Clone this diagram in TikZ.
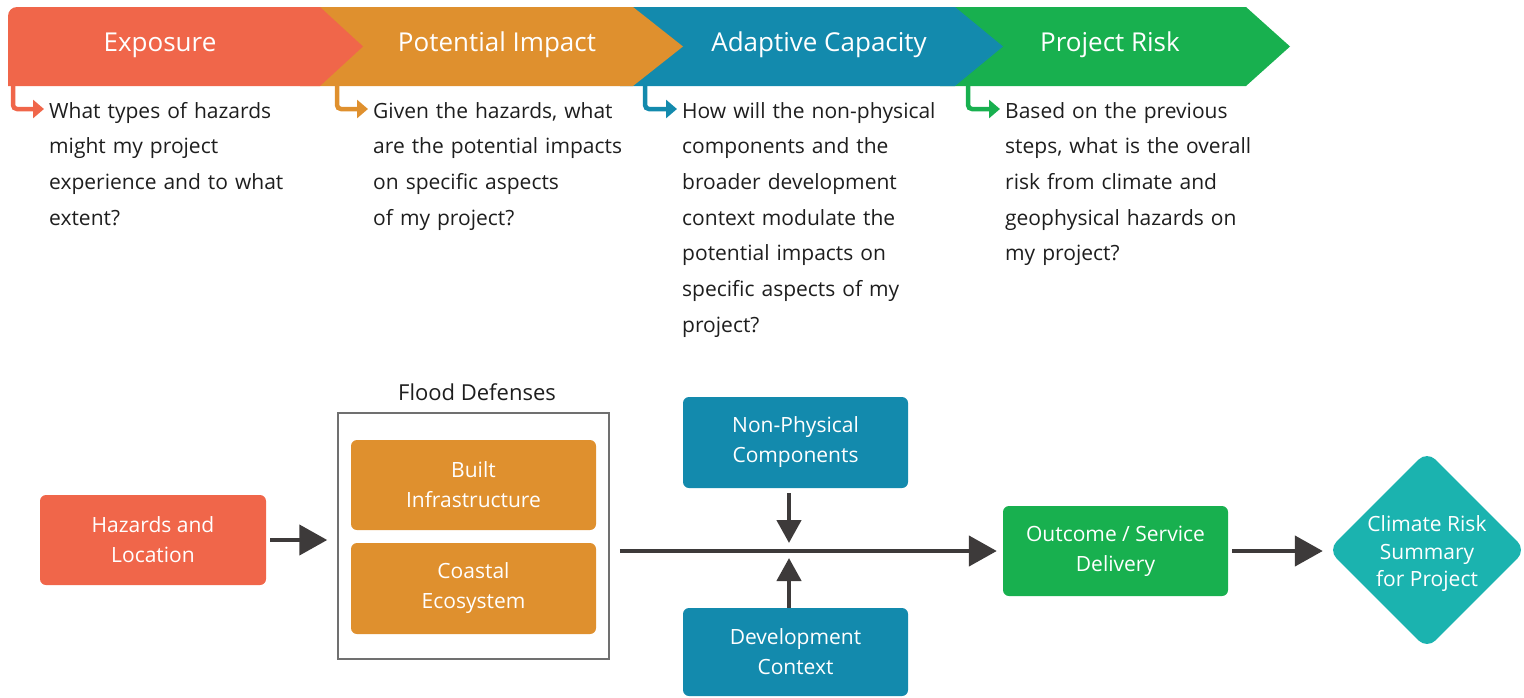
\documentclass[tikz,border=0pt]{standalone}
\usepackage{fontspec}
\setmainfont{Open Sans}
\usetikzlibrary{arrows.meta,shapes.geometric,calc}
\definecolor{cExp}{HTML}{F0664A}
\definecolor{cImp}{HTML}{DF902E}
\definecolor{cAda}{HTML}{138AAD}
\definecolor{cRisk}{HTML}{18B04F}
\definecolor{cSum}{HTML}{1BB3AF}
\definecolor{cArr}{HTML}{3D3A3A}
\definecolor{cTxt}{HTML}{1E1E1E}
\definecolor{cFrame}{HTML}{707070}
\begin{document}
\begin{tikzpicture}[x=1pt,y=-1pt,
  stage/.style={text=white,font=\fontsize{26pt}{30pt}\selectfont},
  question/.style={anchor=base west,inner sep=0pt,text width=300pt,align=left,
    text=cTxt,font=\fontsize{21pt}{35.7pt}\selectfont},
  lead/.style={line width=4.5pt,rounded corners=4pt,
    -{Triangle[length=11pt,width=18pt]}},
  box/.style={rounded corners=6pt,minimum width=#1,align=center,text=white,
    font=\fontsize{21pt}{30pt}\selectfont,inner sep=0pt},
  box/.default=225pt,
  flow/.style={draw=cArr,line width=4.5pt,-{Triangle[length=28pt,width=30pt]}},
  vflow/.style={draw=cArr,line width=4.5pt,-{Triangle[length=23pt,width=24pt]}}]
\useasboundingbox (0,0) rectangle (1524,697);

% ---- stage band (drawn right to left so each tip lies over the next) ----
\fill[cRisk] (940,7) -- (1246,7) -- (1290,46.5) -- (1246,86) -- (940,86) -- cycle;
\fill[cAda] (620,7) -- (955,7) -- (1003,46.5) -- (955,86) -- (620,86) -- cycle;
\fill[cImp] (300,7) -- (633,7) -- (683,46.5) -- (633,86) -- (300,86) -- cycle;
\fill[cExp] (8,86) [rounded corners=9pt] -- (8,7) [sharp corners] -- (320,7)
  -- (363,46.5) -- (320,86) -- cycle;

\node[stage] (sExp)  at (160,45) {Exposure};
\node[stage] (sImp)  at (497,45) {Potential Impact};
\node[stage] (sAda)  at (819,45) {Adaptive Capacity};
\node[stage] (sRisk) at (1110,45) {Project Risk};

% ---- guiding questions ----
\node[question] (q1) at (49,118) {What types of hazards\\might my project\\experience and to what\\extent?};
\node[question] (q2) at (373,118) {Given the hazards, what\\are the potential impacts\\on specific aspects\\of my project?};
\node[question] (q3) at (682,118) {How will the non-physical\\components and the\\broader development\\context modulate the\\potential impacts on\\specific aspects of my\\project?};
\node[question] (q4) at (1005,118) {Based on the previous\\steps, what is the overall\\risk from climate and\\geophysical hazards on\\my project?};

\coordinate (e1) at (13,86);    \coordinate (t1) at (44,109);
\coordinate (e2) at (337,86);   \coordinate (t2) at (368,109);
\coordinate (e3) at (645,86);   \coordinate (t3) at (677,109);
\coordinate (e4) at (968,86);   \coordinate (t4) at (1000,109);
\draw[lead,cExp]  (e1) |- (t1);
\draw[lead,cImp]  (e2) |- (t2);
\draw[lead,cAda]  (e3) |- (t3);
\draw[lead,cRisk] (e4) |- (t4);

% ---- flow of the assessment ----
\node[box=226pt,minimum height=90pt,fill=cExp] (hz) at (153,540) {Hazards and\\Location};

\node[draw=cFrame,line width=1.5pt,minimum width=271pt,minimum height=246pt,inner sep=0pt]
  (fd) at (473.5,536) {};
\node[text=cTxt,font=\fontsize{22pt}{26pt}\selectfont] (fdt) at (477,392) {Flood Defenses};
\node[box=245pt,minimum height=90pt,fill=cImp] (bi) at (473.5,485) {Built\\Infrastructure};
\node[box=245pt,minimum height=91pt,fill=cImp] (ce) at (473.5,588.5) {Coastal\\Ecosystem};

\node[box,minimum height=91pt,fill=cAda] (np) at (795.5,442.5) {Non-Physical\\Components};
\node[box,minimum height=88pt,fill=cAda] (dc) at (795.5,652) {Development\\Context};

\node[box,minimum height=90pt,fill=cRisk] (od) at (1115.5,551) {Outcome / Service\\Delivery};

\node[diamond,aspect=1,minimum width=198pt,minimum height=198pt,inner sep=0pt,
  rounded corners=12pt,fill=cSum] (sum) at (1427,550) {};
\node[text=white,align=center,font=\fontsize{21pt}{27.5pt}\selectfont]
  (sumtxt) at ($(sum.center)+(0,4)$) {Climate Risk\\Summary\\for Project};

\coordinate (j) at (789,551);
\coordinate (hzrow) at (0,540);

\draw[flow,shorten <=4pt,shorten >=10pt] (hz.east |- hzrow) -- (fd.west |- hzrow);
\draw[flow,shorten <=10pt,shorten >=6pt] (fd.east |- j) -- (od.west |- j);
\draw[vflow,shorten <=5pt,shorten >=8pt] (np.south -| j) -- (j);
\draw[vflow,shorten >=7pt] (dc.north -| j) -- (j);
\draw[flow,shorten <=4pt,shorten >=5pt] (od.east |- j) -- (sum.west |- j);
\end{tikzpicture}
\end{document}
